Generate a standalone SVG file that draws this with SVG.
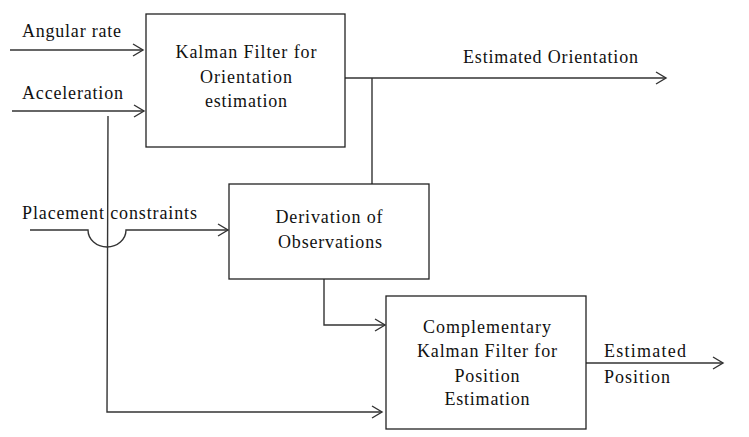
<svg xmlns="http://www.w3.org/2000/svg" width="749" height="437" viewBox="0 0 749 437">
<style>
.box{fill:#fff;stroke:#222;stroke-width:1.3}
.ln{fill:none;stroke:#333;stroke-width:1.4}
text{font-family:"Liberation Serif","DejaVu Serif",serif;font-size:18px;fill:#111}
.c{text-anchor:middle}
</style>
<defs>
<marker id="ah" markerUnits="userSpaceOnUse" markerWidth="14" markerHeight="14" viewBox="0 0 14 14" refX="12" refY="7" orient="auto">
<path d="M2,1 L12,7 L2,13" fill="none" stroke="#333" stroke-width="1.4"/>
</marker>
</defs>
<rect width="749" height="437" fill="#fff"/>
<g id="connectors">
<path class="ln" d="M10,50 L143,50" marker-end="url(#ah)"/>
<path class="ln" d="M12,111 L144,111" marker-end="url(#ah)"/>
<path class="ln" d="M345,78 L666,78" marker-end="url(#ah)"/>
<path class="ln" d="M372,78 L372,184"/>
<path class="ln" d="M30,230 L88,230 A19,17 0 0 0 126,230 L228,230" marker-end="url(#ah)"/>
<path class="ln" d="M108,116 L107,412 L382,412" marker-end="url(#ah)"/>
<path class="ln" d="M324,279 L324,325 L385,325" marker-end="url(#ah)"/>
<path class="ln" d="M586,363 L723,363" marker-end="url(#ah)"/>
</g>
<g id="labels">
<text x="22" y="37" textLength="99" lengthAdjust="spacing">Angular rate</text>
<text x="22" y="99" textLength="101" lengthAdjust="spacing">Acceleration</text>
<text x="463" y="63" textLength="175" lengthAdjust="spacing">Estimated Orientation</text>
<text x="22" y="219" textLength="175" lengthAdjust="spacing">Placement constraints</text>
<text x="604" y="357" textLength="82" lengthAdjust="spacing">Estimated</text>
<text x="604" y="383" textLength="66" lengthAdjust="spacing">Position</text>
</g>
<g id="kalman-orientation">
<rect class="box" x="146" y="14" width="199" height="133"/>
<text class="c" x="246" y="58" textLength="141" lengthAdjust="spacing">Kalman Filter for</text>
<text class="c" x="246" y="83" textLength="92" lengthAdjust="spacing">Orientation</text>
<text class="c" x="246" y="107" textLength="82" lengthAdjust="spacing">estimation</text>
</g>
<g id="derivation">
<rect class="box" x="229" y="184" width="200" height="95"/>
<text class="c" x="329" y="223" textLength="107" lengthAdjust="spacing">Derivation of</text>
<text class="c" x="330" y="248" textLength="104" lengthAdjust="spacing">Observations</text>
</g>
<g id="complementary-kf">
<rect class="box" x="386" y="296" width="200" height="133"/>
<text class="c" x="487" y="333" textLength="128" lengthAdjust="spacing">Complementary</text>
<text class="c" x="487" y="357" textLength="140" lengthAdjust="spacing">Kalman Filter for</text>
<text class="c" x="487" y="382" textLength="65" lengthAdjust="spacing">Position</text>
<text class="c" x="487" y="405" textLength="85" lengthAdjust="spacing">Estimation</text>
</g>
</svg>
